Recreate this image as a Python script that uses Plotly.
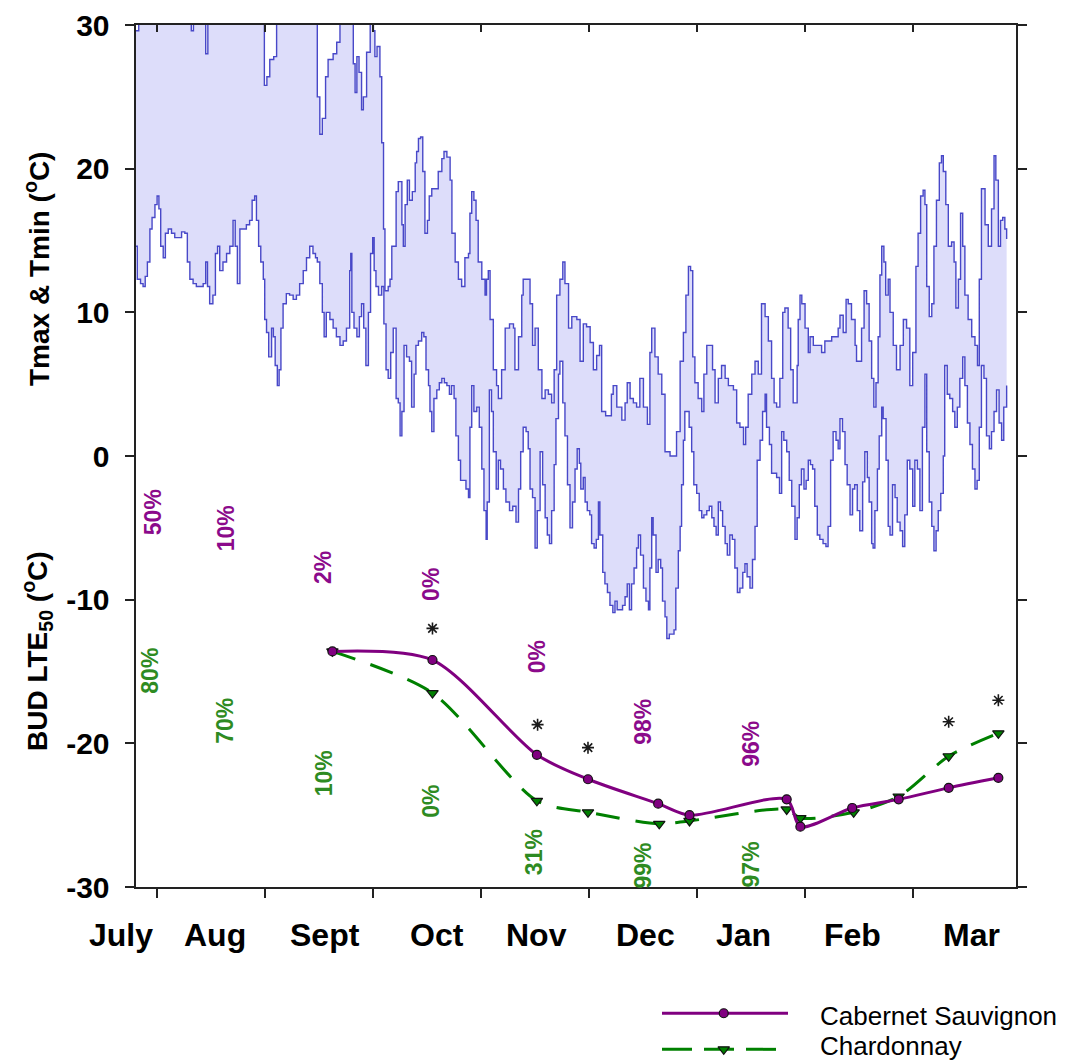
import plotly.graph_objects as go

W, H = 1070, 1061

# ---------------- data ----------------
# x = day of season (ticks every 30 days)
tick_days = [30, 60, 90, 120, 150, 180, 210, 240]
month_pos = [20.0, 46.1, 76.8, 107.8, 135.4, 165.9, 193.0, 223.2, 256.2]
month_names = ["July", "Aug", "Sept", "Oct", "Nov", "Dec", "Jan", "Feb", "Mar"]
y_ticks = [-30, -20, -10, 0, 10, 20, 30]
y_tick_text = ["-30", "-20", "-10", "0", "10", "20", "30"]

tmax_day = [24.1, 25.0, 39.0, 39.6, 40.2, 43.0, 43.6, 44.2, 59.0, 59.9, 60.6, 61.4, 62.5, 63.3,
            74.0, 74.6, 75.3, 76.0, 76.9, 77.6, 79.0, 80.0, 80.9, 83.8, 84.6, 85.1, 85.6, 86.2,
            86.9, 87.4, 88.3, 89.3, 90.2, 90.6, 91.2, 92.0, 92.5, 93.0, 93.4, 94.3, 94.8, 95.3,
            96.5, 97.1, 98.1, 98.5, 99.0, 99.6, 100.2, 101.0, 101.8, 102.2, 102.7, 103.3, 103.9,
            104.5, 105.2, 105.7, 106.4, 107.3, 108.2, 109.2, 109.8, 110.6, 111.5, 112.0, 112.9,
            113.8, 114.7, 115.6, 116.6, 117.0, 117.5, 118.1, 118.7, 119.3, 120.3, 121.2, 121.6,
            122.1, 122.6, 123.5, 124.4, 124.9, 125.8, 126.8, 128.0, 129.1, 129.5, 130.5, 131.4,
            131.8, 132.8, 133.7, 134.4, 135.1, 136.0, 137.0, 137.9, 138.8, 139.7, 140.4, 141.1,
            142.0, 142.8, 143.4, 144.4, 145.3, 146.7, 147.6, 148.5, 149.4, 150.4, 151.3, 152.2,
            153.0, 153.6, 154.7, 155.7, 156.3, 156.8, 157.8, 159.2, 160.1, 160.7, 161.5, 162.4,
            163.3, 164.2, 165.2, 166.3, 167.0, 167.5, 168.4, 169.3, 170.3, 171.2, 172.6, 174.0,
            174.4, 175.4, 176.3, 177.0, 177.7, 178.3, 178.9, 179.5, 180.4, 181.4, 182.0, 182.8,
            183.7, 184.4, 185.1, 186.0, 186.9, 187.9, 188.8, 190.2, 191.1, 192.0, 193.0, 193.6,
            194.3, 195.3, 196.2, 197.1, 198.0, 199.0, 199.9, 200.8, 201.5, 202.2, 203.1, 203.9,
            204.5, 205.4, 206.1, 206.8, 207.9, 208.2, 208.7, 209.2, 210.1, 211.0, 211.5, 212.4,
            213.3, 214.7, 215.6, 216.5, 217.5, 218.4, 219.3, 219.8, 220.7, 221.5, 222.1, 223.0,
            224.0, 224.4, 225.3, 225.8, 226.5, 227.2, 227.9, 228.6, 229.2, 229.8, 230.4, 230.9,
            231.4, 232.0, 232.5, 233.2, 233.7, 234.6, 235.5, 236.5, 237.4, 238.3, 239.2, 240.0,
            240.9, 241.5, 242.2, 242.9, 243.4, 243.9, 244.6, 245.3, 245.9, 246.6, 247.4, 248.0,
            248.5, 249.2, 249.9, 250.8, 251.5, 252.0, 252.7, 253.3, 253.9, 254.5, 255.4, 256.4,
            257.3, 258.0, 258.5, 259.1, 260.1, 261.0, 261.9, 262.6, 263.1, 263.8, 264.4, 265.0,
            265.6, 266.1]
tmax = [29.6, 31, 31, 29.6, 31, 31, 28.0, 31, 31, 25.8, 26.4, 27.6, 27.8, 31,
        31, 25.0, 22.4, 23.5, 26.4, 27.6, 28.0, 28.8, 31, 31, 27.3, 25.3, 27.8, 26.7,
        24.1, 25.0, 28.1, 31, 29.6, 27.8, 28.5, 26.4, 21.8, 15.8, 11.5, 11.8, 12.3, 14.6,
        18.4, 19.1, 16.1, 14.6, 17.5, 19.2, 17.8, 18.4, 20.4, 21.2, 22.1, 22.2, 19.8,
        15.5, 16.4, 18.1, 18.6, 18.6, 19.8, 20.7, 21.2, 20.8, 19.2, 15.5, 13.5,
        12.3, 11.8, 13.8, 14.1, 16.9, 18.4, 17.8, 16.4, 13.5, 12.3, 11.2, 12.3,
        12.9, 9.5, 6.0, 4.9, 4.0, 6.0, 8.9, 9.2, 8.9, 6.0, 8.3, 11.2,
        12.3, 12.3, 10.6, 7.7, 8.9, 6.0, 4.0, 4.6, 4.3, 3.7, 6.0, 11.2,
        12.3, 13.5, 12.0, 8.9, 9.7, 9.5, 6.6, 9.2, 9.0, 7.9, 6.0, 7.0,
        7.7, 3.1, 2.8, 2.8, 4.3, 4.9, 3.4, 2.5, 3.7, 5.1, 4.0, 3.7,
        3.4, 5.4, 3.4, 2.2, 7.2, 8.9, 6.9, 5.7, 4.3, 0.3, 0.0, 0.0,
        1.7, 6.6, 8.6, 11.2, 13.2, 12.9, 6.9, 5.1, 4.0, 3.1, 5.7, 7.7,
        7.7, 6.0, 3.7, 5.4, 6.3, 5.4, 4.9, 4.6, 2.3, 2.0, 0.8, 2.0,
        4.3, 5.7, 6.6, 5.7, 10.6, 9.7, 8.0, 5.4, 3.7, 3.4, 5.4, 10.0,
        10.3, 8.9, 6.0, 3.7, 6.3, 9.5, 11.2, 10.6, 8.9, 7.2, 8.3, 7.7,
        7.7, 7.2, 8.0, 8.0, 8.3, 8.3, 8.9, 9.8, 8.6, 10.9, 10.6, 9.5,
        7.7, 6.6, 6.6, 8.9, 11.5, 10.6, 8.0, 5.4, 3.4, 5.1, 8.3, 12.6,
        14.6, 13.5, 11.2, 12.3, 10.0, 7.7, 6.0, 7.7, 9.5, 8.9, 4.9, 7.2,
        13.2, 15.5, 18.1, 18.5, 17.5, 11.8, 9.7, 10.6, 14.6, 17.8, 20.4, 20.9,
        19.8, 17.5, 14.6, 14.9, 13.5, 10.3, 12.3, 16.9, 14.6, 11.2, 9.5, 8.3,
        7.7, 6.3, 12.3, 18.6, 16.1, 14.6, 17.2, 20.9, 19.2, 14.6, 16.4, 16.6,
        15.8, 15.1]

tmin_day = [24.1, 24.6, 25.5, 26.2, 26.8, 27.4, 28.1, 28.7, 29.5, 30.1, 30.6, 31.1, 31.8, 32.4,
            33.2, 34.1, 35.0, 35.9, 36.9, 37.8, 38.5, 39.2, 40.1, 41.0, 42.0, 42.9, 43.6, 44.1,
            44.7, 45.6, 46.3, 46.9, 47.5, 48.4, 49.4, 50.3, 51.2, 51.8, 52.4, 53.1, 54.0, 54.9,
            55.8, 56.5, 57.2, 57.7, 58.3, 58.9, 59.6, 60.0, 60.5, 61.1, 61.9, 62.4, 62.9, 63.5,
            64.0, 64.5, 65.1, 66.0, 66.9, 67.9, 68.8, 69.7, 70.7, 71.6, 72.5, 73.4, 74.1, 74.6,
            75.3, 76.0, 76.5, 77.1, 78.1, 79.0, 79.9, 80.9, 81.8, 82.7, 83.6, 83.9, 84.2, 84.8,
            85.6, 86.3, 86.9, 87.5, 88.1, 88.8, 89.4, 90.0, 90.4, 90.9, 91.6, 92.5, 93.1, 93.7,
            94.3, 95.0, 95.7, 96.5, 97.1, 97.6, 98.1, 98.7, 99.4, 100.2, 100.8, 101.5, 102.0,
            102.7, 103.6, 104.2, 104.8, 105.5, 105.9, 106.4, 107.0, 107.8, 108.5, 109.2, 109.9,
            110.6, 111.3, 111.9, 112.6, 113.1, 113.8, 114.4, 115.2, 115.9, 116.6, 117.0, 117.5,
            118.1, 118.9, 119.6, 120.3, 120.9, 121.5, 121.8, 122.4, 123.0, 123.5, 124.3, 124.9,
            125.5, 126.3, 127.0, 128.0, 128.9, 129.8, 130.5, 131.1, 131.8, 132.6, 133.2, 133.7,
            134.4, 135.1, 135.7, 136.5, 137.2, 137.9, 138.5, 139.1, 139.7, 140.4, 140.9, 141.6,
            142.0, 142.8, 143.4, 144.1, 144.8, 145.5, 146.2, 146.8, 147.4, 147.8, 148.5, 149.0,
            149.6, 150.3, 150.8, 151.5, 152.1, 152.7, 153.1, 153.9, 154.5, 155.2, 155.9, 156.7,
            157.3, 157.9, 158.7, 159.4, 160.1, 160.7, 161.3, 161.9, 162.6, 163.3, 163.8, 164.4,
            165.2, 165.9, 166.6, 167.0, 167.5, 167.9, 168.7, 169.3, 170.0, 170.5, 171.2, 171.7,
            172.4, 173.0, 173.7, 174.2, 174.9, 175.4, 175.8, 176.3, 176.7, 177.3, 177.9, 178.6,
            179.2, 180.0, 180.7, 181.4, 182.0, 182.8, 183.5, 184.2, 184.8, 185.4, 186.0, 186.6,
            187.2, 187.9, 188.5, 189.2, 189.9, 190.6, 191.3, 192.0, 192.8, 193.4, 194.0, 194.8,
            195.5, 196.2, 196.8, 197.6, 198.3, 199.0, 199.4, 200.2, 200.8, 201.5, 202.2, 203.0,
            203.6, 204.2, 205.0, 205.7, 206.4, 207.3, 207.9, 208.5, 209.1, 209.8, 210.4, 211.0,
            211.6, 212.2, 212.8, 213.5, 214.2, 215.1, 215.9, 216.5, 217.2, 217.9, 218.7, 219.3,
            219.8, 220.5, 221.2, 221.8, 222.6, 223.3, 223.9, 224.6, 225.3, 226.1, 226.7, 227.4,
            227.9, 228.6, 229.0, 229.5, 230.2, 230.7, 231.4, 231.8, 232.6, 233.2, 233.7, 234.4,
            235.1, 235.7, 236.5, 237.2, 237.8, 238.5, 239.2, 240.0, 240.6, 241.3, 242.0, 242.7,
            243.4, 243.9, 244.6, 245.3, 245.9, 246.5, 247.1, 247.8, 248.5, 248.9, 249.6, 250.3,
            251.1, 251.7, 252.4, 253.1, 253.9, 254.5, 255.2, 255.9, 256.6, 257.3, 257.9, 258.5,
            259.1, 259.8, 260.5, 261.3, 261.9, 262.6, 263.3, 264.0, 264.7, 265.3, 266.1]
tmin = [14.6, 12.3, 12.0, 11.8, 12.5, 13.5, 15.8, 16.6, 17.5, 18.1, 17.2, 14.6, 13.8, 15.5,
        15.8, 15.5, 15.2, 15.2, 15.6, 15.5, 13.5, 12.3, 12.0, 11.8, 11.8, 12.0, 13.5, 11.8,
        10.6, 11.2, 14.1, 14.6, 12.9, 13.5, 14.1, 14.6, 16.4, 14.6, 12.0, 15.8, 15.8, 16.1,
        16.4, 17.8, 18.1, 16.4, 14.6, 13.5, 12.3, 9.5, 8.6, 6.9, 8.9, 8.3, 6.3, 4.9,
        6.0, 8.9, 10.6, 11.3, 11.2, 10.9, 11.2, 12.0, 12.9, 13.8, 14.6, 14.1, 13.8, 13.5,
        12.0, 10.0, 8.3, 10.0, 9.5, 8.9, 8.3, 7.7, 8.0, 8.9, 12.9, 14.1, 10.0, 8.9,
        8.3, 9.7, 10.6, 8.9, 6.3, 10.0, 14.1, 15.2, 12.9, 11.8, 11.2, 11.8, 9.2, 6.0,
        5.4, 7.2, 8.9, 4.0, 3.7, 1.4, 3.1, 7.7, 6.9, 6.6, 3.4, 5.7, 7.7,
        8.0, 8.6, 8.3, 6.0, 4.9, 3.1, 1.7, 4.0, 4.6, 5.1, 5.4, 5.1,
        4.9, 4.3, 4.9, 4.0, 1.4, -0.3, -1.7, -1.7, -2.3, -2.9, 2.0, 4.9,
        3.1, 3.4, 2.0, -0.9, -3.8, -5.8, -3.2, 4.6, 3.1, 0.3, -2.3, -0.3,
        -0.9, -2.3, -3.2, -3.8, -3.5, -4.6, -2.3, 0.3, 2.0, 1.7, 0.5, -2.3,
        -2.9, -6.4, -3.8, 0.3, -2.0, -4.3, -5.5, -6.1, -3.8, -0.6, 2.6, 5.7,
        6.6, 3.7, 1.4, -2.0, -5.0, -3.2, -0.9, 0.5, -0.5, -2.3, -1.5, -3.2,
        -3.8, -4.1, -6.1, -6.4, -5.8, -3.2, -5.5, -8.1, -8.9, -9.5, -10.4, -10.9,
        -10.1, -10.7, -10.7, -10.4, -9.8, -8.9, -10.7, -8.9, -7.8, -6.4, -5.5, -6.9,
        -9.2, -10.1, -10.7, -7.8, -4.3, -5.5, -8.1, -7.2, -7.8, -10.1, -11.2, -12.7,
        -12.4, -12.4, -12.1, -9.2, -6.6, -4.9, -2.0, 1.1, 3.1, 3.1, 2.0, 0.3,
        -2.0, -2.6, -3.8, -4.3, -4.1, -3.8, -3.5, -4.3, -4.9, -5.5, -3.2, -3.8,
        -4.9, -6.1, -6.9, -5.5, -5.8, -7.8, -9.5, -9.2, -8.1, -7.5, -8.4, -9.2,
        -7.2, -4.9, -0.3, 1.1, 3.1, 4.3, 2.0, 0.8, -1.2, -1.2, -1.5, -2.6,
        1.7, 1.1, 0.3, -1.7, -3.5, -5.8, -4.3, -2.0, -0.9, -2.3, -1.7, -0.3,
        -0.6, -0.9, -3.5, -5.5, -5.8, -6.1, -6.3, -4.9, -0.3, 1.7, 1.1, 0.5,
        2.6, 1.7, -0.6, -2.0, -4.1, -2.3, -2.0, -3.8, -5.2, -1.8, 0.3, -1.5,
        -3.2, -6.1, -6.4, -3.8, -0.9, 1.4, 3.4, 2.6, -0.3, -4.9, -5.5, -2.0,
        -2.9, -4.6, -5.2, -6.3, -4.1, -0.3, -0.9, -3.5, -0.3, -0.9, -3.8, 2.0,
        5.7, 0.3, -3.2, -4.9, -6.6, -5.2, -3.8, -2.6, 0.0, 6.3, 4.3, 4.0,
        3.1, 2.0, 3.4, 5.4, 6.9, 4.9, 2.3, 0.8, -0.9, -2.3, -1.7, 2.0,
        6.3, 5.4, 1.4, 0.5, 1.7, 3.1, 4.6, 2.3, 1.1, 3.4, 4.9]

# Bud LTE50 sampling dates and values
cab_day = [78.8, 106.6, 135.6, 149.8, 169.3, 178.0, 205.0, 208.8, 223.2, 236.1, 250.0, 263.8]
cab_lte = [-13.6, -14.2, -20.8, -22.5, -24.2, -25.0, -23.9, -25.8, -24.5, -23.9, -23.1, -22.4]
chard_day = [78.8, 106.6, 135.6, 149.8, 169.6, 178.0, 205.0, 208.8, 223.6, 236.1, 250.0, 263.8]
chard_lte = [-13.6, -16.5, -24.0, -24.8, -25.6, -25.4, -24.6, -25.2, -24.8, -23.7, -20.9, -19.3]

# significance asterisks
star_day = [106.6, 135.8, 149.8, 250.0, 263.8]
star_val = [-12.0, -18.7, -20.3, -18.5, -17.0]

# bud survival percentages
cab_pct_day = [29.0, 49.1, 76.4, 106.0, 135.7, 165.1, 195.2]
cab_pct_y = [-3.9, -5.0, -7.75, -8.95, -14.0, -18.5, -20.0]
cab_pct = ["50%", "10%", "2%", "0%", "0%", "98%", "96%"]
chard_pct_day = [28.1, 49.1, 76.4, 106.0, 134.7, 165.1, 195.2]
chard_pct_y = [-14.95, -18.4, -22.1, -24.05, -27.6, -28.5, -28.4]
chard_pct = ["80%", "70%", "10%", "0%", "31%", "99%", "97%"]

series_names = ["Cabernet Sauvignon", "Chardonnay"]

# ---------------- styling ----------------
FONT = "Liberation Sans, Arial, Helvetica, sans-serif"
PURPLE = "#800080"
GREEN = "#008000"
PCT_PURPLE = "#8B0A8B"
PCT_GREEN = "#2E8B22"
TLINE = "#4848C8"
TFILL = "rgb(221,221,250)"
AX = "#222222"

XR = [24.1, 268.7]
XD = [135.5 / W, 1016 / W]
YD = [1 - 887 / H, 1 - 25 / H]


def day_to_paper(d):
    # same linear mapping the x axis uses, so labels left of the range still show
    return XD[0] + (d - XR[0]) / (XR[1] - XR[0]) * (XD[1] - XD[0])


fig = go.Figure()

fig.add_trace(go.Scatter(x=tmin_day, y=tmin, mode="lines", line=dict(color=TLINE, width=1.4, shape="hv"),
                         showlegend=False, hoverinfo="skip"))
fig.add_trace(go.Scatter(x=tmax_day, y=tmax, mode="lines", line=dict(color=TLINE, width=1.4, shape="hv"),
                         fill="tonexty", fillcolor=TFILL, showlegend=False, hoverinfo="skip"))

fig.add_trace(go.Scatter(x=star_day, y=star_val, mode="markers", xaxis="x2", yaxis="y",
                         marker=dict(symbol="asterisk-open", size=10, color="#1a1a1a",
                                     line=dict(color="#1a1a1a", width=1.6)),
                         showlegend=False))

fig.add_trace(go.Scatter(x=chard_day, y=chard_lte, mode="lines+markers", xaxis="x3", yaxis="y",
                         line=dict(color=GREEN, width=3, dash="24px,16px", shape="spline", smoothing=0.8),
                         marker=dict(symbol="triangle-down", size=10, color=GREEN, line=dict(color="#111", width=1.2)),
                         name=series_names[1], showlegend=False))
fig.add_trace(go.Scatter(x=cab_day, y=cab_lte, mode="lines+markers", xaxis="x3", yaxis="y",
                         line=dict(color=PURPLE, width=3, shape="spline", smoothing=0.8),
                         marker=dict(symbol="circle", size=9, color=PURPLE, line=dict(color="#111", width=1.2)),
                         name=series_names[0], showlegend=False))

# custom key on its own small axis pair
LEG_ROWS = [0.45, 0.11]
fig.add_trace(go.Scatter(x=[0, 1], y=[LEG_ROWS[0]] * 2, mode="lines", xaxis="x4", yaxis="y4",
                         line=dict(color=PURPLE, width=3), showlegend=False, hoverinfo="skip"))
fig.add_trace(go.Scatter(x=[0.49], y=[LEG_ROWS[0]], mode="markers", xaxis="x4", yaxis="y4",
                         marker=dict(symbol="circle", size=9, color=PURPLE, line=dict(color="#111", width=1.2)),
                         showlegend=False, hoverinfo="skip"))
fig.add_trace(go.Scatter(x=[0, 1], y=[LEG_ROWS[1]] * 2, mode="lines", xaxis="x4", yaxis="y4",
                         line=dict(color=GREEN, width=3, dash="30px,12px"), showlegend=False, hoverinfo="skip"))
fig.add_trace(go.Scatter(x=[0.49], y=[LEG_ROWS[1]], mode="markers", xaxis="x4", yaxis="y4",
                         marker=dict(symbol="triangle-down", size=10, color=GREEN, line=dict(color="#111", width=1.2)),
                         showlegend=False, hoverinfo="skip"))

annotations = []
for d, v, t in zip(cab_pct_day, cab_pct_y, cab_pct):
    annotations.append(dict(x=d, y=v, xref="x", yref="y", text=t, showarrow=False, textangle=-90,
                            font=dict(family=FONT, size=23, color=PCT_PURPLE, weight="bold")))
for d, v, t in zip(chard_pct_day, chard_pct_y, chard_pct):
    annotations.append(dict(x=d, y=v, xref="x", yref="y", text=t, showarrow=False, textangle=-90,
                            font=dict(family=FONT, size=23, color=PCT_GREEN, weight="bold")))

# month labels under the axis
for d, m in zip(month_pos, month_names):
    annotations.append(dict(x=day_to_paper(d), y=1 - 935 / H, xref="paper", yref="paper", text=m,
                            showarrow=False, xanchor="center", yanchor="middle",
                            font=dict(family=FONT, size=32, color="black", weight="bold")))

annotations.append(dict(x=37 / W, y=1 - 269 / H, xref="paper", yref="paper", showarrow=False, textangle=-90,
                        xanchor="center", yanchor="middle",
                        text="Tmax & Tmin (<sup>o</sup>C)", font=dict(family=FONT, size=28, color="black", weight="bold")))
annotations.append(dict(x=37 / W, y=1 - 651 / H, xref="paper", yref="paper", showarrow=False, textangle=-90,
                        xanchor="center", yanchor="middle",
                        text="BUD LTE<sub>50</sub> (<sup>o</sup>C)", font=dict(family=FONT, size=28, color="black", weight="bold")))
annotations.append(dict(x=818 / W, y=1 - 1016 / H, xref="paper", yref="paper", showarrow=False, xanchor="left",
                        yanchor="middle", text=series_names[0], font=dict(family=FONT, size=26, color="black")))
annotations.append(dict(x=818 / W, y=1 - 1046 / H, xref="paper", yref="paper", showarrow=False, xanchor="left",
                        yanchor="middle", text=series_names[1], font=dict(family=FONT, size=26, color="black")))

fig.update_layout(
    width=W, height=H,
    margin=dict(l=0, r=0, t=0, b=0),
    paper_bgcolor="white", plot_bgcolor="white",
    showlegend=False,
    xaxis=dict(domain=XD, range=XR, anchor="y", showticklabels=False,
               ticks="", showline=True, linewidth=2, linecolor=AX, showgrid=False, zeroline=False,
               automargin=False),
    xaxis2=dict(overlaying="x", anchor="y", side="bottom", range=XR, tickmode="array", tickvals=tick_days,
                ticks="outside", ticklen=10, tickwidth=2, tickcolor=AX, showticklabels=False,
                showline=False, showgrid=False, zeroline=False, automargin=False),
    xaxis3=dict(overlaying="x", anchor="y", side="top", range=XR, tickmode="array", tickvals=tick_days,
                ticks="inside", ticklen=7, tickwidth=2, tickcolor=AX, showticklabels=False,
                showline=True, linewidth=2, linecolor=AX, showgrid=False, zeroline=False, automargin=False),
    yaxis=dict(domain=YD, range=[-30, 30], tickmode="array", tickvals=y_ticks, ticktext=y_tick_text,
               ticks="outside", ticklen=9, tickwidth=2, tickcolor=AX, showline=True, linewidth=2,
               linecolor=AX, mirror="ticks", showgrid=False, zeroline=False,
               tickfont=dict(family=FONT, size=30, color="black", weight="bold"), ticklabelstandoff=9,
               automargin=False),
    xaxis4=dict(domain=[662 / W, 788 / W], range=[0, 1], anchor="y4", visible=False),
    yaxis4=dict(domain=[0, 0.1], range=[0, 1], anchor="x4", visible=False),
    annotations=annotations,
)

fig.write_html("out.html")
